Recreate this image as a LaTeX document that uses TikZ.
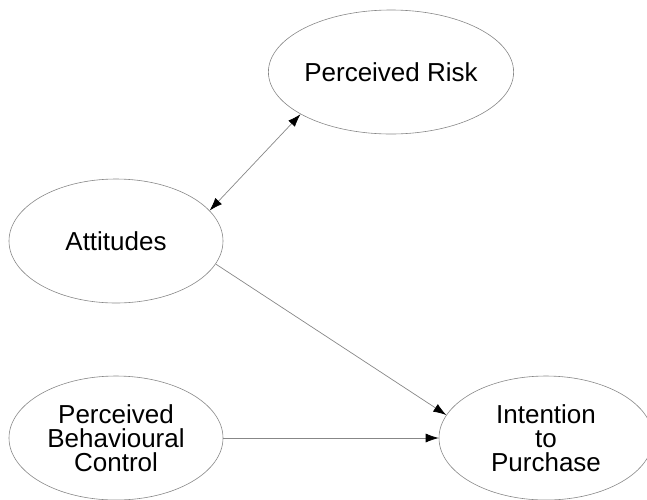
\documentclass[tikz,border=0pt]{standalone}
\usepackage{fontspec}
\setmainfont{Liberation Sans}
\usepackage{tikz}
\usetikzlibrary{arrows.meta,shapes.geometric}
\definecolor{edgegray}{RGB}{135,135,135}

\begin{document}
\begin{tikzpicture}[
        x=1pt, y=-1pt,
        >={Latex[length=13pt,width=9pt,color=black]},
        % Plain outlined ellipses, one per construct.
        construct/.style={ellipse, draw=edgegray, line width=0.6pt,
            minimum width=214pt, minimum height=124pt, inner sep=0pt,
            align=center, font=\fontsize{26}{24}\selectfont},
        path/.style={draw=edgegray, line width=0.7pt}
    ]
        \useasboundingbox (0,0) rectangle (647,499);
        % Constructs
        \node[construct] (risk) at (391,72) {Perceived Risk};
        \node[construct] (att) at (116,241) {Attitudes};
        \node[construct] (pbc) at (116,438) {Perceived\\Behavioural\\Control};
        \node[construct] (int) at (546,438) {Intention\\to\\Purchase};

        % Paths
        \draw[path, <->] (att.18) -- (risk.205);
        \draw[path, ->] (att.347) -- (int.167);
        \draw[path, ->] (pbc) -- (int);
    \end{tikzpicture}
\end{document}
